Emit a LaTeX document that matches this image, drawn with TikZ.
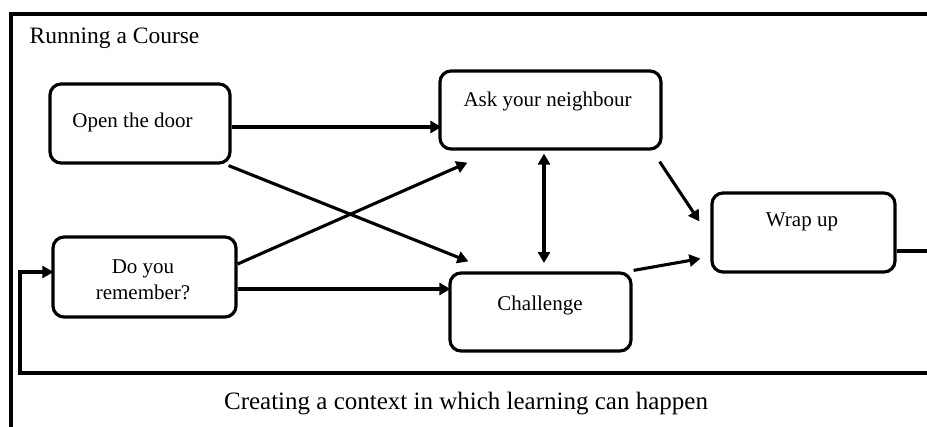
\documentclass[tikz,border=0pt]{standalone}
\usepackage{fontspec}
\setmainfont{Liberation Serif}
\usetikzlibrary{arrows.meta}
\begin{document}
\begin{tikzpicture}[x=1pt,y=-1pt,
  box/.style={draw,line width=3.2pt,rounded corners=11pt,inner sep=0pt},
  lbl/.style={inner sep=0pt,font=\fontsize{21}{26}\selectfont,align=center},
  arr/.style={line width=3.1pt,-{Triangle[length=11pt,width=12pt]}},
  dbl/.style={line width=3.1pt,{Triangle[length=11pt,width=12pt]}-{Triangle[length=11pt,width=12pt]}},
  frame/.style={line width=3.3pt}]
\useasboundingbox (0,0) rectangle (927,426);
\clip (0,0) rectangle (927,426);
% outer frame
\draw[frame] (11,440) -- (11,14) -- (940,14);
\node[anchor=west,inner sep=0pt,font=\fontsize{23.5}{27}\selectfont] (title) at (29.5,38) {Running a Course};
\node[inner sep=0pt,font=\fontsize{25}{28}\selectfont] (foot) at (466,404) {Creating a context in which learning can happen};
% boxes
\node[box,minimum width=180pt,minimum height=79pt] (open) at (140,123.5) {};
\node[lbl] (openT) at (132.5,122) {Open the door};
\node[box,minimum width=221pt,minimum height=78pt] (ask) at (550.5,110) {};
\node[lbl] (askT) at (547.5,101) {Ask your neighbour};
\node[box,minimum width=183pt,minimum height=80pt] (rem) at (144.5,277) {};
\node[lbl] (remT) at (143,280) {Do you\\remember?};
\node[box,minimum width=181pt,minimum height=78pt] (chal) at (540.5,312) {};
\node[lbl] (chalT) at (540,305) {Challenge};
\node[box,minimum width=183pt,minimum height=79pt] (wrap) at (803.5,232.5) {};
\node[lbl] (wrapT) at (802,222) {Wrap up};
% connectors
\draw[arr] (open.east |- 0,127) -- ([xshift=3pt]ask.west |- 0,127);
\draw[arr] ([shift={(-3,1)}]open.south east) -- ([shift={(20,-10)}]chal.north west);
\draw[arr] (rem.east |- 0,264) -- ([shift={(29,12)}]ask.south west);
\draw[arr] (rem.east |- 0,289) -- ([xshift=2pt]chal.west |- 0,289);
\draw[dbl] (ask.south -| 544,0) ++(0,3) -- (544,263);
\draw[arr] ([shift={(-3,11)}]ask.south east) -- ([shift={(-11,30)}]wrap.north west);
\draw[arr] ([shift={(1,-1)}]chal.north east) -- ([shift={(-10,-15)}]wrap.south west);
\draw[arr,rounded corners=0pt] (wrap.east |- 0,251) -- (945,251) -- (945,373) -- (20,373) -- (20,272) -- ([xshift=2pt]rem.west |- 0,272);
\end{tikzpicture}
\end{document}
